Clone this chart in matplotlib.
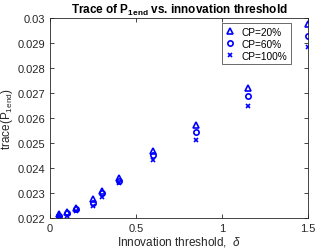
import matplotlib
matplotlib.use("Agg")
import matplotlib.pyplot as plt

plt.rcParams['font.family'] = ['Liberation Sans', 'DejaVu Sans']
plt.rcParams['mathtext.fontset'] = 'custom'
plt.rcParams['mathtext.rm'] = 'Liberation Sans'
plt.rcParams['mathtext.it'] = 'Liberation Sans:italic'
plt.rcParams['mathtext.bf'] = 'Liberation Sans:bold'

thresholds = [0.05, 0.1, 0.15, 0.25, 0.3, 0.4, 0.6, 0.85, 1.15, 1.5]
cp20 = [0.02215, 0.02225, 0.0224, 0.02275, 0.0231, 0.0236, 0.02469, 0.02572, 0.0272, 0.02976]
cp60 = [0.0221, 0.0222, 0.02235, 0.0226, 0.0230, 0.0235, 0.02453, 0.02543, 0.0269, 0.02928]
cp100 = [0.02208, 0.0221, 0.0223, 0.0225, 0.02285, 0.0234, 0.02433, 0.02513, 0.0265, 0.02885]
labels = ['CP=20%', 'CP=60%', 'CP=100%']
xticks = [0, 0.5, 1, 1.5]
yticks = [0.022, 0.023, 0.024, 0.025, 0.026, 0.027, 0.028, 0.029, 0.03]

fig = plt.figure(figsize=(3.16, 2.53), dpi=100)
ax = fig.add_axes([0.158, 0.134, 0.817, 0.791])
blue = (0, 0, 1)
ax.plot(thresholds, cp20, linestyle='none', marker='^', mfc='none', mec=blue, ms=4.2, mew=1.2, label=labels[0])
ax.plot(thresholds, cp60, linestyle='none', marker='o', mfc='none', mec=blue, ms=3.8, mew=1.2, label=labels[1])
ax.plot(thresholds, cp100, linestyle='none', marker='x', color=blue, ms=2.8, mew=1.2, label=labels[2])

ax.set_xlim(0, 1.5)
ax.set_ylim(0.022, 0.03)
ax.set_xticks(xticks)
ax.set_xticklabels(['0', '0.5', '1', '1.5'])
ax.set_yticks(yticks)
ax.set_yticklabels(['0.022', '0.023', '0.024', '0.025', '0.026', '0.027', '0.028', '0.029', '0.03'])
ax.tick_params(direction='in', length=3, width=0.6, labelsize=8, colors='#262626', top=True, right=True)
for s in ax.spines.values():
    s.set_linewidth(0.6)
    s.set_color('#262626')

ax.set_title(r'Trace of P$_{\mathbf{1end}}$ vs. innovation threshold', fontsize=8.5, fontweight='bold', pad=4)
ax.set_xlabel(r'Innovation threshold,  $\it{\delta}$', fontsize=8.5, labelpad=1, color='#262626')
ax.set_ylabel(r'trace(P$_{\mathrm{1end}}$)', fontsize=8.5, labelpad=2, color='#262626')

leg = ax.legend(loc='upper right', bbox_to_anchor=(0.945, 0.99), fontsize=7.3, frameon=True, fancybox=False,
                edgecolor='#262626', handletextpad=0.7, borderpad=0.35, labelspacing=0.2, handlelength=0.9,
                borderaxespad=0.3)
leg.get_frame().set_linewidth(0.6)

fig.savefig('out.png', dpi=100)
